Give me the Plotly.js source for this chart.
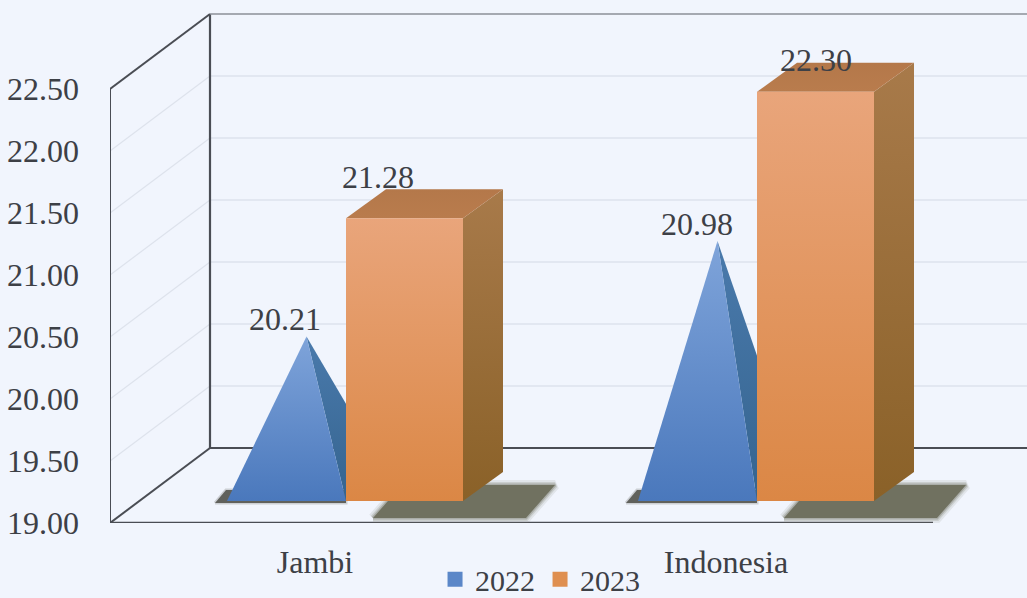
<!DOCTYPE html>
<html><head><meta charset="utf-8">
<script src="https://cdn.plot.ly/plotly-3.0.1.min.js"></script>
<style>html,body{margin:0;padding:0;background:#F1F5FD;overflow:hidden}</style>
</head><body><div id="chart" style="width:1027px;height:598px"></div>
<script>
const categories = ["Jambi", "Indonesia"];
const series2022 = [20.21, 20.98];
const series2023 = [21.28, 22.30];
const yTicks = [19, 19.5, 20, 20.5, 21, 21.5, 22, 22.5];
const seriesNames = ["2022", "2023"];

// scale of the picture: one category step and one value unit in pixels
const W = 1027, H = 598, ML = 110, MB = 75, MT = 5;
const PX_CAT = 411, PX_VAL = 124, CAT0 = 315, Y0 = 523;
const xr = [(ML - CAT0) / PX_CAT, (W - CAT0) / PX_CAT];
const yr = [19, 19 + (Y0 - MT) / PX_VAL];
const BASE = 19;
const X = (c, px) => c + px / PX_CAT;
const Y = (v, up) => v + up / PX_VAL;
const WALL = [100, 75], LIFT = 22, BARD = [40, 29];
const ink = "#3d4046", frame = "#4a4d54", faint = "#dde2ec";

const traces = [];
function poly(pts, opt) {
  traces.push(Object.assign({
    type: "scatter", mode: "lines", x: pts.map(p => p[0]), y: pts.map(p => p[1]),
    hoverinfo: "skip", showlegend: false, line: {width: 0}
  }, opt));
}
function fillPoly(pts, color, grad) {
  const closed = pts.concat([pts[0]]);
  const o = {fill: "toself", fillcolor: color, line: {width: 0, color: color}};
  if (grad) o.fillgradient = {type: "vertical", colorscale: [[0, grad[0]], [1, grad[1]]]};
  poly(closed, o);
}
function seg(a, b, color, width) { poly([a, b], {line: {color: color, width: width}}); }
function blurPoly(pts, rgb, soft) {
  const closed = pts.concat([pts[0]]);
  soft.forEach(s => poly(closed, {line: {color: `rgba(${rgb},${s[1]})`, width: s[0]}}));
  poly(closed, {fill: "toself", fillcolor: `rgb(${rgb})`, line: {width: 0}});
}

// walls
const xL = xr[0], xB = xL + WALL[0] / PX_CAT;
yTicks.forEach((t, i) => {
  if (i === 0 || i === yTicks.length - 1) return;
  seg([xL, t], [xB, Y(t, WALL[1])], faint, 1.2);
  seg([xB, Y(t, WALL[1])], [xr[1], Y(t, WALL[1])], faint, 1.5);
});
seg([xL, 19], [xL, 22.5], frame, 2);
seg([xL, 22.5], [xB, Y(22.5, WALL[1])], frame, 2);
seg([xB, Y(19, WALL[1])], [xB, Y(22.5, WALL[1])], frame, 2.2);
seg([xB, Y(22.5, WALL[1])], [xr[1], Y(22.5, WALL[1])], "#8b8f97", 1.5);
seg([xL, 19], [xB, Y(19, WALL[1])], frame, 2);
seg([xB, Y(19, WALL[1])], [xr[1], Y(19, WALL[1])], frame, 2);
seg([xL, 19], [(933 - CAT0) / PX_CAT, 19], frame, 2.4);

// bars and pyramids
categories.forEach((_, c) => {
  // shadows
  blurPoly([[X(c, -100), Y(19, 20)], [X(c, 31), Y(19, 20)], [X(c, 31), Y(19, 33)], [X(c, -89), Y(19, 33)]],
    "96,97,92", [[3, .25]]);
  blurPoly([[X(c, 58), Y(19, 5)], [X(c, 211), Y(19, 5)], [X(c, 240), Y(19, 38)], [X(c, 87), Y(19, 38)]],
    "112,113,96", [[10, .12], [6, .2], [3, .35]]);

  // 2022 pyramid
  const v1 = series2022[c] - BASE;
  const bl = X(c, -88), br = X(c, 31);
  const apex = [X(c, -8.5), Y(19 + v1, LIFT + BARD[1] / 2)];
  fillPoly([[br, Y(19, LIFT)], [X(c, 71), Y(19, LIFT + BARD[1])], apex], "#3f6d9f", ["#35648f", "#4a7aac"]);
  fillPoly([[bl, Y(19, LIFT)], [br, Y(19, LIFT)], apex], "#5f8ccb", ["#4a78bc", "#7fa4da"]);

  // 2023 box
  const v2 = series2023[c] - BASE;
  const l = X(c, 31), r = X(c, 148), r2 = X(c, 148 + BARD[0]), l2 = X(c, 31 + BARD[0]);
  const b = Y(19, LIFT), t = Y(19 + v2, LIFT), b2 = Y(19, LIFT + BARD[1]), t2 = Y(19 + v2, LIFT + BARD[1]);
  fillPoly([[r, b], [r2, b2], [r2, t2], [r, t]], "#9a6c38", ["#8a6128", "#a87a4a"]);
  fillPoly([[l, t], [r, t], [r2, t2], [l2, t2]], "#b87b4b", ["#b97c4d", "#b4784a"]);
  fillPoly([[l, b], [r, b], [r, t], [l, t]], "#e29a62", ["#db8745", "#e9a57b"]);
});

// value labels (hand placed in the source, relative to each mark)
const labelShift2022 = [[-30, 14], [-29, 13.5]];
const labelShift2023 = [[63, 38], [90, 29]];
const lx = [], ly = [], lt = [];
categories.forEach((_, c) => {
  lx.push(X(c, labelShift2022[c][0]));
  ly.push(Y(series2022[c], LIFT + BARD[1] / 2 + labelShift2022[c][1]));
  lt.push(series2022[c].toFixed(2));
  lx.push(X(c, labelShift2023[c][0]));
  ly.push(Y(series2023[c], LIFT + labelShift2023[c][1]));
  lt.push(series2023[c].toFixed(2));
});
traces.push({type: "scatter", mode: "text", x: lx, y: ly, text: lt, textposition: "middle center",
  textfont: {family: "Liberation Serif", size: 32, color: ink}, hoverinfo: "skip", showlegend: false});

// legend entries
[["#5b87c8", 0], ["#df8f50", 1]].forEach(s => traces.push({
  type: "scatter", mode: "markers", x: [null], y: [null], name: seriesNames[s[1]],
  marker: {symbol: "square", size: 15, color: s[0]}, hoverinfo: "skip"
}));

Plotly.newPlot("chart", traces, {
  width: W, height: H, paper_bgcolor: "#F1F5FD", plot_bgcolor: "rgba(0,0,0,0)",
  margin: {l: ML, r: 0, t: MT, b: MB, pad: 0, autoexpand: false},
  font: {family: "Liberation Serif", size: 32, color: ink},
  showlegend: true,
  legend: {orientation: "h", xref: "container", yref: "container", x: 0.4236, xanchor: "left", y: 0.075, yanchor: "top",
    font: {size: 30, color: ink}, bgcolor: "rgba(0,0,0,0)", itemwidth: 30, tracegroupgap: 0},
  xaxis: {range: xr, tickmode: "array", tickvals: categories.map((_, i) => i), ticktext: categories,
    showgrid: false, zeroline: false, showline: false, ticks: "", ticklabelstandoff: 17, fixedrange: true, automargin: false},
  yaxis: {range: yr, tickmode: "array", tickvals: yTicks, ticktext: yTicks.map(t => t.toFixed(2)),
    showgrid: false, zeroline: false, showline: false, ticks: "", ticklabelstandoff: 30, fixedrange: true, automargin: false}
}, {displayModeBar: false, staticPlot: true});
</script></body></html>
